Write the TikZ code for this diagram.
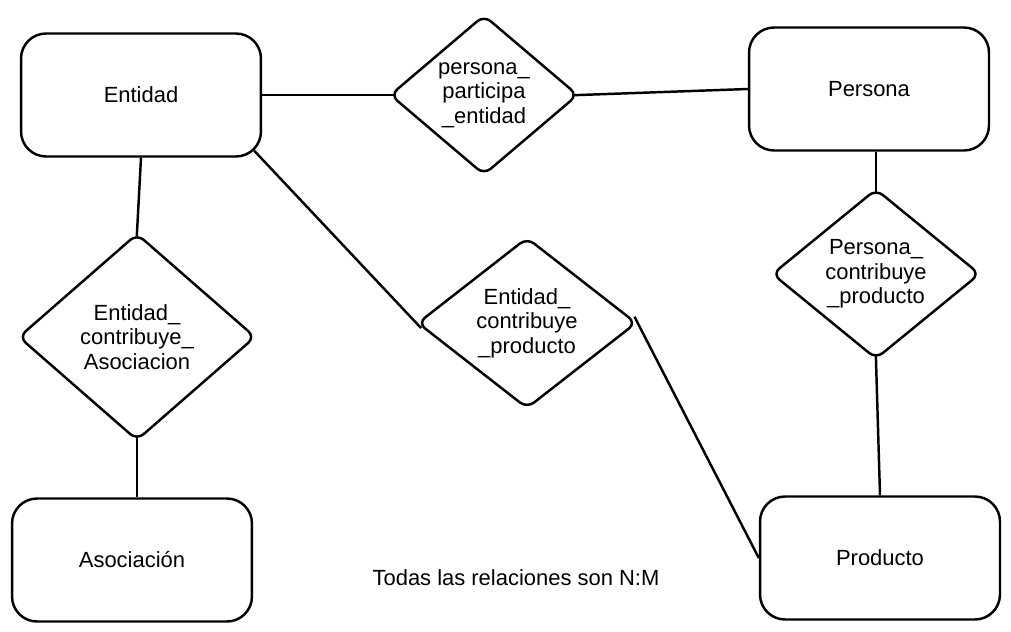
\documentclass[tikz,border=0pt]{standalone}
\usepackage{fontspec}
\setmainfont{Liberation Sans}
\usetikzlibrary{shapes.geometric}
\tikzset{
    entidad/.style={draw, line width=1.4pt, rounded corners=0.5cm, inner sep=0pt,
        minimum width=4.8cm, minimum height=2.46cm, font=\fontsize{12.5}{14}\selectfont},
    relacion/.style={draw, line width=1.4pt, diamond, rounded corners=5pt, inner sep=0pt,
        align=center, font=\fontsize{12.5}{14}\selectfont},
    enlace/.style={line width=1.4pt}
}
\begin{document}
\begin{tikzpicture}[x=0.02cm, y=-0.02cm]
\useasboundingbox (0,0) rectangle (1011,632);
% entidades
\node[entidad] (ent) at (141,95){Entidad};
\node[entidad] (per) at (869,89){Persona};
\node[entidad] (aso) at (132,560){Asociación};
\node[entidad] (prd) at (880,558){Producto};
% relaciones
\node[relacion, minimum width=3.76cm, minimum height=3.2cm] (pe) at (484,95)
    {persona\_\\participa\\\_entidad};
\node[relacion, minimum width=4.74cm, minimum height=4.14cm] (ea) at (137,337)
    {Entidad\_\\contribuye\_\\Asociacion};
\node[relacion, minimum width=4.38cm, minimum height=2.88cm] (ep) at (527,323)
    {Entidad\_\\contribuye\\\_producto};
\node[relacion, minimum width=4.16cm, minimum height=3.16cm] (pp) at (876,274)
    {Persona\_\\contribuye\\\_producto};

\draw[enlace, shorten >=-3pt] (ent.east)--(pe.west);
\draw[enlace, shorten <=-3pt] (pe.east)--(per.west);
\draw[enlace, shorten >=-2.5pt] (ent.south)--(ea.north);
\draw[enlace, shorten <=-2.5pt] (ea.south)--(ea.south |- aso.north);
\draw[enlace, shorten >=-4pt] ([shift={(-8,-7)}]ent.south east)--(ep.west);
\draw[enlace, shorten <=-4pt] (ep.east)--(prd.west);
\draw[enlace, shorten >=-2.5pt] (pp.north |- per.south)--(pp.north);
\draw[enlace, shorten <=-2.5pt] (pp.south)--(prd.north);

\node[font=\fontsize{12.5}{14}\selectfont] (nota) at (516,578){Todas las relaciones son N:M};
\end{tikzpicture}
\end{document}
